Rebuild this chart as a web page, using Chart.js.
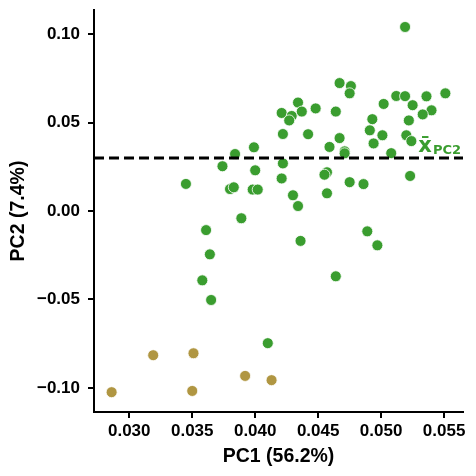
<!DOCTYPE html>
<html>
<head>
<meta charset="utf-8">
<script src="https://cdn.jsdelivr.net/npm/chart.js@4.4.1/dist/chart.umd.min.js"></script>
<style>
  html, body { margin: 0; padding: 0; background: #fff; }
  #wrap { width: 476px; height: 476px; }
</style>
</head>
<body>
<div id="wrap"><canvas id="pca"></canvas></div>
<script>
// PC1 / PC2 scores
const pc1Green = [0.0519, 0.0467, 0.0476, 0.0475, 0.0512, 0.0519, 0.0536, 0.0551, 0.0434, 0.0502,
  0.0525, 0.0540, 0.0533, 0.0421, 0.0429, 0.0427, 0.0437, 0.0448, 0.0464, 0.0493,
  0.0522, 0.0422, 0.0442, 0.0467, 0.0491, 0.0501, 0.0520, 0.0524, 0.0459, 0.0494,
  0.0471, 0.0471, 0.0508, 0.0399, 0.0384, 0.0374, 0.0400, 0.0422, 0.0421, 0.0457,
  0.0455, 0.0475, 0.0486, 0.0523, 0.0430, 0.0457, 0.0434, 0.0345, 0.0380, 0.0383,
  0.0398, 0.0402, 0.0389, 0.0361, 0.0436, 0.0489, 0.0497, 0.0464, 0.0364, 0.0358,
  0.0365, 0.0410];
const pc2Green = [0.1040, 0.0723, 0.0706, 0.0665, 0.0650, 0.0649, 0.0648, 0.0665, 0.0613, 0.0605,
  0.0598, 0.0569, 0.0546, 0.0554, 0.0537, 0.0512, 0.0562, 0.0580, 0.0562, 0.0519,
  0.0512, 0.0435, 0.0434, 0.0412, 0.0456, 0.0428, 0.0428, 0.0395, 0.0362, 0.0382,
  0.0337, 0.0326, 0.0327, 0.0360, 0.0322, 0.0253, 0.0230, 0.0269, 0.0184, 0.0219,
  0.0205, 0.0163, 0.0152, 0.0198, 0.0089, 0.0100, 0.0028, 0.0153, 0.0124, 0.0134,
  0.0121, 0.0121, -0.0041, -0.0108, -0.0169, -0.0115, -0.0194, -0.0369, -0.0245, -0.0392,
  -0.0503, -0.0747];
const pc1Gold = [0.0319, 0.0351, 0.0392, 0.0413, 0.0286, 0.0350];
const pc2Gold = [-0.0815, -0.0804, -0.0932, -0.0956, -0.1024, -0.1017];
const pc2Mean = 0.0299;

const xTicks = [0.030, 0.035, 0.040, 0.045, 0.050, 0.055];
const xTickLabels = ['0.030', '0.035', '0.040', '0.045', '0.050', '0.055'];
const yTicks = [-0.10, -0.05, 0.00, 0.05, 0.10];
const yTickLabels = ['\u22120.10', '\u22120.05', '0.00', '0.05', '0.10'];

const xMin = 0.0272, xMax = 0.0565;
const yMin = -0.1136, yMax = 0.1136;

const green = '#3a9d2f';
const gold = '#b09642';

function toPoints(xs, ys) {
    return xs.map(function (x, i) { return { x: x, y: ys[i] }; });
}

// label "x̄ PC2" sitting on the mean line
const meanLabel = {
    id: 'meanLabel',
    afterDatasetsDraw(chart) {
        const ctx = chart.ctx;
        const yPix = chart.scales.y.getPixelForValue(pc2Mean);
        const right = chart.chartArea.right - 2;
        ctx.save();
        ctx.fillStyle = green;
        ctx.textBaseline = 'alphabetic';
        ctx.font = 'bold 13px "DejaVu Sans"';
        const w = ctx.measureText('PC2').width;
        ctx.textAlign = 'left';
        ctx.fillText('PC2', right - w, yPix - 4);
        ctx.font = 'bold 21px "DejaVu Sans"';
        ctx.textAlign = 'right';
        ctx.fillText('x\u0304', right - w - 1, yPix - 6);
        ctx.restore();
    }
};

const tickFont = { family: '"Liberation Sans", Arial, sans-serif', size: 17, weight: 'bold' };
const titleFont = { family: '"Liberation Sans", Arial, sans-serif', size: 19.5, weight: 'bold' };

new Chart(document.getElementById('pca'), {
    type: 'scatter',
    data: {
        datasets: [
            {
                type: 'line',
                data: [{ x: xMin, y: pc2Mean }, { x: xMax, y: pc2Mean }],
                borderColor: '#000',
                borderWidth: 3,
                borderDash: [10, 5],
                pointRadius: 0,
                order: 0
            },
            {
                data: toPoints(pc1Green, pc2Green),
                backgroundColor: green,
                borderColor: '#fff',
                borderWidth: 0.8,
                pointRadius: 5.5,
                order: 1
            },
            {
                data: toPoints(pc1Gold, pc2Gold),
                backgroundColor: gold,
                borderColor: '#fff',
                borderWidth: 0.8,
                pointRadius: 5.5,
                order: 1
            }
        ]
    },
    options: {
        responsive: true,
        maintainAspectRatio: false,
        animation: false,
        layout: { padding: { top: 10, right: 13, left: 0, bottom: 0 } },
        plugins: {
            legend: { display: false },
            tooltip: { enabled: false }
        },
        scales: {
            x: {
                type: 'linear',
                min: xMin,
                max: xMax,
                afterBuildTicks: function (scale) {
                    scale.ticks = xTicks.map(function (v) { return { value: v }; });
                },
                afterFit: function (scale) {
                    scale.height = 64;
                    scale.paddingLeft = 0;
                    scale.paddingRight = 0;
                },
                grid: { display: true, drawOnChartArea: false, drawTicks: true, tickLength: 6, lineWidth: 2, color: '#000' },
                border: { display: true, width: 2, color: '#000' },
                ticks: {
                    color: '#000',
                    font: tickFont,
                    padding: 3,
                    maxRotation: 0,
                    callback: function (v, i) { return xTickLabels[i]; }
                },
                title: { display: true, text: 'PC1 (56.2%)', color: '#000', font: titleFont, padding: { top: 8, bottom: 8 } }
            },
            y: {
                type: 'linear',
                min: yMin,
                max: yMax,
                afterBuildTicks: function (scale) {
                    scale.ticks = yTicks.map(function (v) { return { value: v }; });
                },
                afterFit: function (scale) {
                    scale.width = 94;
                    scale.paddingTop = 0;
                    scale.paddingBottom = 0;
                },
                grid: { display: true, drawOnChartArea: false, drawTicks: true, tickLength: 6, lineWidth: 2, color: '#000' },
                border: { display: true, width: 2, color: '#000' },
                ticks: {
                    color: '#000',
                    font: tickFont,
                    padding: 8,
                    callback: function (v, i) { return yTickLabels[i]; }
                },
                title: { display: true, text: 'PC2 (7.4%)', color: '#000', font: titleFont, padding: { top: 7, bottom: 7 } }
            }
        }
    },
    plugins: [meanLabel]
});
</script>
</body>
</html>
